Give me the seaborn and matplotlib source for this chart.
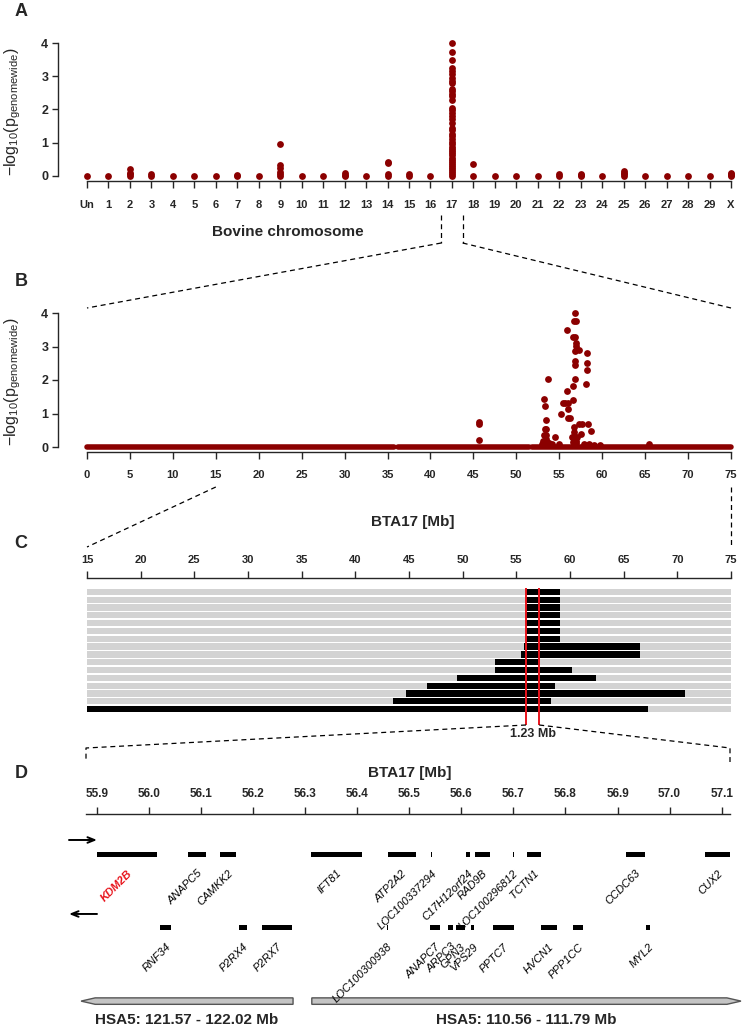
import numpy as np
import pandas as pd
import seaborn as sns
import matplotlib.pyplot as plt
from matplotlib.lines import Line2D
from matplotlib.patches import Polygon

# ---- panel A: genome-wide scan, one column per bovine chromosome ----
chrom_labels = ['Un'] + [str(c) for c in range(1, 30)] + ['X']
extra_chrom = ['2', '2', '2', '3', '7', '9', '9', '9', '9', '9', '12', '12',
               '14', '14', '14', '15', '18', '22', '23', '23', '25', '25', '25',
               'X', 'X', 'X']
extra_logp = [0.05, 0.08, 0.22, 0.05, 0.04, 0.06, 0.12, 0.25, 0.33, 0.97, 0.04, 0.08,
              0.05, 0.38, 0.41, 0.05, 0.35, 0.05, 0.03, 0.06, 0.06, 0.10, 0.15,
              0.04, 0.07, 0.10]
bta17_logp = [4.0, 3.74, 3.49, 3.26, 3.15, 3.07, 2.95, 2.87, 2.80, 2.62, 2.55, 2.48,
              2.40, 2.29, 2.05, 1.98, 1.90, 1.80, 1.70, 1.58, 1.45, 1.38, 1.27, 1.20,
              1.12, 1.02, 0.95, 0.88, 0.82, 0.75, 0.68, 0.62, 0.55, 0.48, 0.42, 0.36,
              0.30, 0.24, 0.18, 0.12, 0.06]

# ---- panel B: BTA17 scan ----
b_line_start = [0.0, 36.2, 51.8]
b_line_end = [35.8, 51.5, 75.0]
b_pos = [45.65, 45.65, 45.65, 53.0, 53.1, 53.2, 53.3, 53.26, 53.37, 53.4, 53.5, 53.5,
         53.45, 53.6, 53.7, 53.8, 54.5, 54.2, 55.0, 55.24, 55.45, 55.7, 56.0, 55.86,
         55.98, 56.0, 56.2, 55.95, 56.5, 56.6, 56.63, 56.63, 56.8, 56.78, 56.78, 56.8,
         56.65, 56.85, 56.95, 56.9, 56.7, 56.9, 56.85, 57.3, 56.7, 56.75, 56.8, 56.9,
         57.0, 57.1, 57.3, 57.7, 58.3, 58.2, 58.2, 58.2, 58.1, 58.65, 57.5, 57.9,
         58.5, 59.0, 59.7, 65.4]
b_logp = [0.76, 0.69, 0.21, 0.10, 0.18, 0.36, 0.55, 1.43, 1.22, 0.81, 0.55, 0.36,
          0.25, 0.15, 2.02, 0.12, 0.31, 0.08, 0.10, 0.98, 1.30, 1.30, 1.30, 1.68,
          1.13, 0.87, 0.87, 3.48, 0.30, 0.15, 1.40, 1.82, 2.02, 2.45, 2.58, 2.87,
          3.27, 3.27, 3.11, 3.02, 3.75, 3.75, 4.0, 2.90, 0.60, 0.45, 0.25, 0.18,
          0.12, 0.30, 0.68, 0.68, 0.68, 2.80, 2.52, 2.30, 1.88, 0.49, 0.40, 0.10,
          0.08, 0.06, 0.06, 0.08]

# ---- panel C: shared haplotype segments ----
c_start = [55.9, 55.9, 55.9, 55.9, 55.9, 55.9, 55.9, 55.7, 55.4, 53.0, 53.0, 49.5,
           46.7, 44.7, 43.5, 15.0]
c_end = [59.1, 59.1, 59.1, 59.1, 59.1, 59.1, 59.1, 66.5, 66.5, 57.2, 60.2, 62.4,
         58.6, 70.7, 58.2, 67.3]
c_region = [55.9, 57.13]
c_region_label = '1.23 Mb'

# ---- panel D: genes in the 1.23 Mb interval ----
fwd_genes = ['KDM2B', 'ANAPC5', 'CAMKK2', 'IFT81', 'ATP2A2', 'LOC100337294',
             'C17H12orf24', 'RAD9B', 'LOC100296812', 'TCTN1', 'CCDC63', 'CUX2']
fwd_start = [55.900, 56.075, 56.137, 56.312, 56.459, 56.542, 56.609, 56.626, 56.699,
             56.726, 56.916, 57.067]
fwd_end = [56.016, 56.110, 56.168, 56.410, 56.513, 56.544, 56.616, 56.655, 56.701,
           56.753, 56.953, 57.116]
rev_genes = ['RNF34', 'P2RX4', 'P2RX7', 'LOC100300938', 'ANAPC7', 'ARPC3', 'GPN3',
             'VPS29', 'PPTC7', 'HVCN1', 'PPP1CC', 'MYL2']
rev_start = [56.022, 56.173, 56.218, 56.457, 56.540, 56.575, 56.589, 56.618, 56.660,
             56.753, 56.815, 56.955]
rev_end = [56.043, 56.189, 56.275, 56.459, 56.560, 56.584, 56.608, 56.625, 56.701,
           56.784, 56.834, 56.963]
hsa_labels = ['HSA5: 121.57 - 122.02 Mb', 'HSA5: 110.56 - 111.79 Mb']
hsa_start = [55.870, 56.313]
hsa_end = [56.277, 57.137]
hsa_dir = [-1, 1]

DARKRED = '#8b0000'
RED = '#e8141c'

sns.set_style('ticks')
NARROW = ['Liberation Sans Narrow', 'Liberation Sans', 'DejaVu Sans']
SANS = ['Liberation Sans', 'DejaVu Sans']
plt.rcParams['font.family'] = SANS
plt.rcParams['mathtext.fontset'] = 'custom'
plt.rcParams['mathtext.rm'] = 'Liberation Sans'
plt.rcParams['mathtext.it'] = 'Liberation Sans:italic'
plt.rcParams['axes.linewidth'] = 1.0

W, H = 744, 1029
fig = plt.figure(figsize=(W / 100, H / 100), dpi=100)


def rect(l, t, r, b):
    return [l / W, 1 - b / H, (r - l) / W, (b - t) / H]


def span(p0, v0, p1, v1, pa, pb):
    k = (v1 - v0) / (p1 - p0)
    return v0 + (pa - p0) * k, v0 + (pb - p0) * k


def fx(ax, x):
    return fig.transFigure.inverted().transform(ax.transData.transform((x, 0)))[0]


def fy(y):
    return 1 - y / H


def dashed(xs, ys):
    fig.add_artist(Line2D(xs, [fy(y) for y in ys], transform=fig.transFigure,
                          color='black', lw=0.9, ls=(0, (4, 3))))


def tick_font(labels, family=NARROW, size=8):
    for t in labels:
        t.set_fontfamily(family)
        t.set_fontweight('bold')
        t.set_fontsize(size)


def bare(ax):
    for s in ax.spines.values():
        s.set_visible(False)
    ax.set_facecolor('none')


YLAB = r'$-\mathrm{log}_{10}(\mathrm{p}_{\mathrm{genomewide}})$'

# ---------------- panel A ----------------
axA = fig.add_axes(rect(58, 40, 735, 181))
bare(axA)
dfA = pd.DataFrame({
    'chrom': chrom_labels + extra_chrom + ['17'] * len(bta17_logp),
    'logp': [0.0] * len(chrom_labels) + extra_logp + bta17_logp,
})
dfA['x'] = dfA['chrom'].map({c: i for i, c in enumerate(chrom_labels)})
sns.scatterplot(data=dfA, x='x', y='logp', color=DARKRED, s=24, linewidth=0,
                ax=axA, clip_on=False, legend=False, zorder=3)
axA.set_xlim(span(87, 0, 731, 30, 58, 735))
axA.set_ylim(span(176, 0, 43, 4, 181, 40))
axA.spines['left'].set_visible(True)
axA.spines['left'].set_bounds(0, 4)
axA.spines['bottom'].set_visible(True)
axA.spines['bottom'].set_bounds(0, 30)
axA.set_xticks(range(len(chrom_labels)))
axA.set_xticklabels(chrom_labels)
axA.set_yticks(range(5))
axA.tick_params(axis='x', length=5, width=1, pad=8.5, direction='out')
axA.tick_params(axis='y', length=4, width=1, pad=3, direction='out')
tick_font(axA.get_xticklabels())
tick_font(axA.get_yticklabels(), size=9)
axA.set_xlabel('Bovine chromosome', fontsize=11, fontweight='bold', fontfamily=NARROW)
axA.xaxis.set_label_coords(288 / W, fy(232), transform=fig.transFigure)
axA.xaxis.label.set_va('center')
axA.set_ylabel(YLAB, fontsize=11.5)
axA.yaxis.set_label_coords(13 / W, fy(112), transform=fig.transFigure)
axA.yaxis.label.set_va('center')

# ---------------- panel B ----------------
axB = fig.add_axes(rect(58, 310, 735, 452))
bare(axB)
axB.hlines([0.0] * len(b_line_start), b_line_start, b_line_end, color=DARKRED,
           lw=4.0, capstyle='round', zorder=2)
dfB = pd.DataFrame({'pos': b_pos, 'logp': b_logp})
sns.scatterplot(data=dfB, x='pos', y='logp', color=DARKRED, s=24, linewidth=0,
                ax=axB, clip_on=False, legend=False, zorder=3)
axB.set_xlim(span(87, 0, 731, 75, 58, 735))
axB.set_ylim(span(447, 0, 313, 4, 452, 310))
axB.spines['left'].set_visible(True)
axB.spines['left'].set_bounds(0, 4)
axB.spines['bottom'].set_visible(True)
axB.spines['bottom'].set_bounds(0, 75)
axB.set_xticks(range(0, 80, 5))
axB.set_yticks(range(5))
axB.tick_params(axis='x', length=5, width=1, pad=8, direction='out')
axB.tick_params(axis='y', length=4, width=1, pad=3, direction='out')
tick_font(axB.get_xticklabels())
tick_font(axB.get_yticklabels(), size=9)
axB.set_xlabel('BTA17 [Mb]', fontsize=11, fontweight='bold', fontfamily=NARROW)
axB.xaxis.set_label_coords(413 / W, fy(522), transform=fig.transFigure)
axB.xaxis.label.set_va('center')
axB.set_ylabel(YLAB, fontsize=11.5)
axB.yaxis.set_label_coords(13 / W, fy(382), transform=fig.transFigure)
axB.yaxis.label.set_va('center')

# ---------------- panel C ----------------
axC = fig.add_axes(rect(87, 578, 731, 713))
bare(axC)
rows = np.arange(len(c_start))
axC.barh(rows, [75 - 15] * len(rows), left=15, height=0.8, color='#d3d3d3', lw=0)
axC.barh(rows, np.array(c_end) - np.array(c_start), left=c_start, height=0.8,
         color='black', lw=0)
axC.set_xlim(15, 75)
ylo, yhi = span(591.9, 0, 709.1, 15, 713, 578)
axC.set_ylim(ylo, yhi)
red_bottom = span(591.9, 0, 709.1, 15, 725, 725)[0]
axC.vlines(c_region, -0.5, red_bottom, color=RED, lw=1.4, clip_on=False, zorder=4)
axC.text(np.mean(c_region), span(591.9, 0, 709.1, 15, 734, 734)[0], c_region_label,
         ha='center', va='center', fontsize=9, fontweight='bold', fontfamily=NARROW)
axC.spines['top'].set_visible(True)
axC.spines['top'].set_bounds(15, 75)
axC.xaxis.tick_top()
axC.set_xticks(range(15, 80, 5))
axC.set_yticks([])
axC.tick_params(axis='x', length=5, width=1, pad=4.5, direction='out')
tick_font(axC.get_xticklabels())

# ---------------- panel D ----------------
axD = fig.add_axes(rect(86, 814, 730, 1029))
bare(axD)
dx0, dx1 = span(96.7, 55.9, 721.7, 57.1, 86, 730)
axD.set_xlim(dx0, dx1)
dy0, dy1 = span(854.3, 0, 927.7, 1, 1029, 814)
axD.set_ylim(dy0, dy1)
axD.spines['top'].set_visible(True)
axD.xaxis.tick_top()
axD.xaxis.set_label_position('top')
d_ticks = [55.9, 56.0, 56.1, 56.2, 56.3, 56.4, 56.5, 56.6, 56.7, 56.8, 56.9, 57.0, 57.1]
axD.set_xticks(d_ticks)
axD.set_xticklabels(['%.1f' % t for t in d_ticks])
axD.set_yticks([])
axD.tick_params(axis='x', length=5, width=1, pad=5, direction='out')
tick_font(axD.get_xticklabels(), family=SANS, size=8.5)
axD.set_xlabel('BTA17 [Mb]', fontsize=11, fontweight='bold', fontfamily=SANS)
axD.xaxis.set_label_coords(410 / W, fy(773), transform=fig.transFigure)
axD.xaxis.label.set_va('center')

for row, names, starts, ends in [(0, fwd_genes, fwd_start, fwd_end),
                                 (1, rev_genes, rev_start, rev_end)]:
    st = np.array(starts)
    en = np.array(ends)
    axD.barh([row] * len(st), en - st, left=st, height=0.068, color='black', lw=0,
             clip_on=False)
    for name, s, e in zip(names, st, en):
        hot = name == 'KDM2B'
        axD.text((s + e) / 2, row + 0.19, name, rotation=45, ha='right', va='top',
                 rotation_mode='anchor', fontsize=8, fontstyle='italic',
                 color=RED if hot else 'black', fontweight='bold' if hot else 'normal')

# strand arrows
ax0, ax1 = span(96.7, 55.9, 721.7, 57.1, 69, 97)
axD.annotate('', xy=(ax1, -0.195), xytext=(ax0, -0.195), annotation_clip=False,
             arrowprops=dict(arrowstyle='->,head_length=0.5,head_width=0.2', lw=1.4,
                             color='black', shrinkA=0, shrinkB=0))
axD.annotate('', xy=(ax0, 0.813), xytext=(ax1, 0.813), annotation_clip=False,
             arrowprops=dict(arrowstyle='->,head_length=0.5,head_width=0.2', lw=1.4,
                             color='black', shrinkA=0, shrinkB=0))

# syntenic human segments
head = 0.027
half = 0.044
for lab, s, e, d in zip(hsa_labels, hsa_start, hsa_end, hsa_dir):
    if d < 0:
        pts = [(s, 2), (s + head, 2 - half), (e, 2 - half), (e, 2 + half), (s + head, 2 + half)]
    else:
        pts = [(e, 2), (e - head, 2 + half), (s, 2 + half), (s, 2 - half), (e - head, 2 - half)]
    axD.add_patch(Polygon(pts, closed=True, facecolor='#c4c4c4', edgecolor='#555555',
                          lw=1, clip_on=False))
    axD.text((s + e) / 2, 2.257, lab, ha='center', va='center', fontsize=11,
             fontweight='bold', fontfamily=NARROW)

# ---------------- zoom connectors ----------------
dashed([fx(axA, 16.5), fx(axA, 16.5)], [215, 243])
dashed([fx(axA, 17.5), fx(axA, 17.5)], [215, 243])
dashed([fx(axA, 16.5), fx(axB, 0)], [243, 308])
dashed([fx(axA, 17.5), fx(axB, 75)], [243, 308])
dashed([fx(axB, 15), fx(axC, 15)], [487, 547])
dashed([fx(axB, 75), fx(axC, 75)], [487, 547])
dashed([fx(axC, c_region[0]), fx(axD, dx0), fx(axD, dx0)], [725, 748, 762])
dashed([fx(axC, c_region[1]), fx(axD, dx1), fx(axD, dx1)], [725, 748, 762])

for letter, y in zip(['A', 'B', 'C', 'D'], [12, 282, 543, 773]):
    fig.text(21 / W, fy(y), letter, ha='center', va='center', fontsize=13,
             fontweight='bold', fontfamily=NARROW)

fig.savefig('out.png', dpi=100)
